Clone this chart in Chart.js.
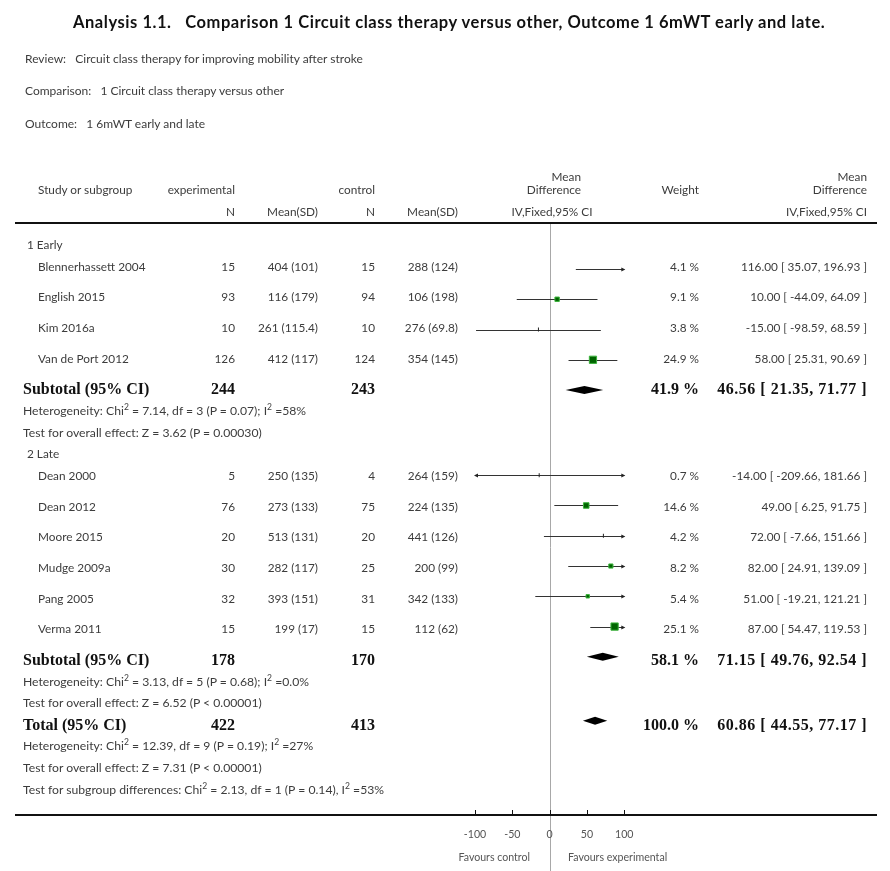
<!DOCTYPE html>
<html>
<head>
<meta charset="utf-8">
<script src="https://cdn.jsdelivr.net/npm/chart.js@4.4.0/dist/chart.umd.min.js"></script>
<style>
html, body { margin: 0; padding: 0; background: #fff; overflow: hidden; }
#wrap { position: relative; width: 890px; height: 871px; }
#grafico { position: absolute; left: 0; top: 0; }
.t { position: absolute; white-space: nowrap; font-family: Lato, "DejaVu Sans", sans-serif; font-size: 11.8px;
     color: #3c3c3c; line-height: 16px; transform: translateY(-50%); }
.c { transform: translate(-50%, -50%); }
.b { font-family: "Liberation Serif", serif; font-weight: bold; font-size: 16px; color: #111; }
.bn { letter-spacing: 0.5px; }
.titulo { font-weight: bold; font-size: 16.5px; letter-spacing: 0.55px; color: #111; }
.cab { font-size: 12px; }
.nota { font-size: 12.2px; }
.eje { font-size: 10.6px; color: #555; }
sup { font-size: 70%; line-height: 0; }
</style>
</head>
<body>
<div id="wrap">
  <canvas id="grafico" width="890" height="871"></canvas>
</div>
<script>
// Datos (Analysis 1.1, 6mWT early and late)
const grupos = ['1 Early', '2 Late'];
const estudios = ['Blennerhassett 2004', 'English 2015', 'Kim 2016a', 'Van de Port 2012',
                  'Dean 2000', 'Dean 2012', 'Moore 2015', 'Mudge 2009a', 'Pang 2005', 'Verma 2011'];
const grupoEstudio = [0, 0, 0, 0, 1, 1, 1, 1, 1, 1];
const expN    = [15, 93, 10, 126, 5, 76, 20, 30, 32, 15];
const expMean = ['404', '116', '261', '412', '250', '273', '513', '282', '393', '199'];
const expSD   = ['101', '179', '115.4', '117', '135', '133', '131', '117', '151', '17'];
const ctlN    = [15, 94, 10, 124, 4, 75, 20, 25, 31, 15];
const ctlMean = ['288', '106', '276', '354', '264', '224', '441', '200', '342', '112'];
const ctlSD   = ['124', '198', '69.8', '145', '159', '135', '126', '99', '133', '62'];
const pesos   = [4.1, 9.1, 3.8, 24.9, 0.7, 14.6, 4.2, 8.2, 5.4, 25.1];
const md      = [116.00, 10.00, -15.00, 58.00, -14.00, 49.00, 72.00, 82.00, 51.00, 87.00];
const icInf   = [35.07, -44.09, -98.59, 25.31, -209.66, 6.25, -7.66, 24.91, -19.21, 54.47];
const icSup   = [196.93, 64.09, 68.59, 90.69, 181.66, 91.75, 151.66, 139.09, 121.21, 119.53];

// Subtotales por grupo
const subExpN  = [244, 178];
const subCtlN  = [243, 170];
const subPeso  = [41.9, 58.1];
const subMD    = [46.56, 71.15];
const subInf   = [21.35, 49.76];
const subSup   = [71.77, 92.54];
const subChi2  = ['7.14', '3.13'];
const subDf    = [3, 5];
const subP     = ['P = 0.07', 'P = 0.68'];
const subI2    = ['58%', '0.0%'];
const subZ     = ['3.62', '6.52'];
const subZP    = ['P = 0.00030', 'P < 0.00001'];

// Total
const totExpN = 422, totCtlN = 413, totPeso = 100.0;
const totMD = 60.86, totInf = 44.55, totSup = 77.17;
const totChi2 = '12.39', totDf = 9, totP = 'P = 0.19', totI2 = '27%';
const totZ = '7.31', totZP = 'P < 0.00001';
const difChi2 = '2.13', difDf = 1, difP = 'P = 0.14', difI2 = '53%';

const ticksX = [-100, -50, 0, 50, 100];

// ---- distribución de filas ----
const FILA = 30.7, LINEA = 21.6;
let yy = 245;
const yGrupo = [], yEstudio = [], ySub = [], yHet = [], yTest = [];
grupos.forEach((g, gi) => {
    yGrupo[gi] = yy; yy += LINEA;
    estudios.forEach((e, i) => {
        if (grupoEstudio[i] === gi) { yEstudio[i] = yy; yy += FILA; }
    });
    ySub[gi] = yy;
    yy += LINEA; yHet[gi] = yy;
    yy += LINEA; yTest[gi] = yy;
    yy += LINEA;
});
const yTotal = yy, yTotHet = yy + LINEA, yTotTest = yy + 2 * LINEA, yDif = yy + 3 * LINEA;
const yEje = 815;

const wrap = document.getElementById('wrap');
function texto(html, x, y, clase, alin) {
    const d = document.createElement('div');
    d.className = 't ' + (clase || '');
    d.innerHTML = html;
    d.style.top = y + 'px';
    if (alin === 'r') d.style.right = (890 - x) + 'px';
    else if (alin === 'c') { d.style.left = x + 'px'; d.classList.add('c'); }
    else d.style.left = x + 'px';
    wrap.appendChild(d);
}
const fmt = v => v.toFixed(2);
const ic = (m, a, b) => fmt(m) + ' [ ' + fmt(a) + ', ' + fmt(b) + ' ]';

// Encabezado
texto('Analysis 1.1.&nbsp;&nbsp; Comparison 1 Circuit class therapy versus other, Outcome 1 6mWT early and late.', 73, 22, 'titulo');
texto('Review:&nbsp;&nbsp; Circuit class therapy for improving mobility after stroke', 25, 59, 'cab');
texto('Comparison:&nbsp;&nbsp; 1 Circuit class therapy versus other', 25, 91, 'cab');
texto('Outcome:&nbsp;&nbsp; 1 6mWT early and late', 25, 124, 'cab');

const colExpN = 235, colExpM = 318, colCtlN = 375, colCtlM = 458, colPeso = 699, colMD = 867;
texto('Study or subgroup', 38, 190);
texto('experimental', colExpN, 190, '', 'r');
texto('control', colCtlN, 190, '', 'r');
texto('N', colExpN, 212, '', 'r');
texto('Mean(SD)', colExpM, 212, '', 'r');
texto('N', colCtlN, 212, '', 'r');
texto('Mean(SD)', colCtlM, 212, '', 'r');
texto('Mean', 581, 177, '', 'r');
texto('Difference', 581, 190, '', 'r');
texto('IV,Fixed,95% CI', 552, 212, '', 'c');
texto('Weight', colPeso, 190, '', 'r');
texto('Mean', colMD, 177, '', 'r');
texto('Difference', colMD, 190, '', 'r');
texto('IV,Fixed,95% CI', colMD, 212, '', 'r');

// Filas de estudios y subtotales
grupos.forEach((g, gi) => {
    texto(g, 27, yGrupo[gi]);
    texto('Subtotal (95% CI)', 23, ySub[gi], 'b');
    texto(subExpN[gi], colExpN, ySub[gi], 'b', 'r');
    texto(subCtlN[gi], colCtlN, ySub[gi], 'b', 'r');
    texto(subPeso[gi].toFixed(1) + ' %', colPeso, ySub[gi], 'b', 'r');
    texto(ic(subMD[gi], subInf[gi], subSup[gi]), colMD, ySub[gi], 'b bn', 'r');
    texto('Heterogeneity: Chi<sup>2</sup> = ' + subChi2[gi] + ', df = ' + subDf[gi] + ' (' + subP[gi] + '); I<sup>2</sup> =' + subI2[gi], 23, yHet[gi], 'nota');
    texto('Test for overall effect: Z = ' + subZ[gi] + ' (' + subZP[gi] + ')', 23, yTest[gi], 'nota');
});
estudios.forEach((e, i) => {
    const y = yEstudio[i];
    texto(e, 38, y);
    texto(expN[i], colExpN, y, '', 'r');
    texto(expMean[i] + ' (' + expSD[i] + ')', colExpM, y, '', 'r');
    texto(ctlN[i], colCtlN, y, '', 'r');
    texto(ctlMean[i] + ' (' + ctlSD[i] + ')', colCtlM, y, '', 'r');
    texto(pesos[i].toFixed(1) + ' %', colPeso, y, '', 'r');
    texto(ic(md[i], icInf[i], icSup[i]), colMD, y, '', 'r');
});
texto('Total (95% CI)', 23, yTotal, 'b');
texto(totExpN, colExpN, yTotal, 'b', 'r');
texto(totCtlN, colCtlN, yTotal, 'b', 'r');
texto(totPeso.toFixed(1) + ' %', colPeso, yTotal, 'b', 'r');
texto(ic(totMD, totInf, totSup), colMD, yTotal, 'b bn', 'r');
texto('Heterogeneity: Chi<sup>2</sup> = ' + totChi2 + ', df = ' + totDf + ' (' + totP + '); I<sup>2</sup> =' + totI2, 23, yTotHet, 'nota');
texto('Test for overall effect: Z = ' + totZ + ' (' + totZP + ')', 23, yTotTest, 'nota');
texto('Test for subgroup differences: Chi<sup>2</sup> = ' + difChi2 + ', df = ' + difDf + ' (' + difP + '), I<sup>2</sup> =' + difI2, 23, yDif, 'nota');

// Tamaño del cuadrado según el peso
const lado = w => 1.45 * Math.sqrt(w);
const esTick = i => lado(pesos[i]) < 3.2;

// Plugin para líneas de IC, diamantes, reglas y eje
const forestPlugin = {
    id: 'forest',
    beforeDatasetsDraw(chart) {
        const ctx = chart.ctx, xs = chart.scales.x, ys = chart.scales.y;
        const x0 = xs.getPixelForValue(0);
        ctx.save();
        // línea de no efecto
        ctx.strokeStyle = '#a8a8a8'; ctx.lineWidth = 1;
        ctx.beginPath(); ctx.moveTo(Math.round(x0) + 0.5, 224); ctx.lineTo(Math.round(x0) + 0.5, 871); ctx.stroke();
        // reglas de la tabla
        ctx.strokeStyle = '#111'; ctx.lineWidth = 2;
        ctx.beginPath(); ctx.moveTo(15, 223); ctx.lineTo(877, 223); ctx.stroke();
        ctx.beginPath(); ctx.moveTo(15, yEje); ctx.lineTo(877, yEje); ctx.stroke();
        // marcas del eje
        ctx.lineWidth = 1;
        ticksX.forEach(v => {
            const px = Math.round(xs.getPixelForValue(v)) + 0.5;
            ctx.beginPath(); ctx.moveTo(px, yEje); ctx.lineTo(px, yEje - 5); ctx.stroke();
        });
        // intervalos de confianza
        const mn = xs.min, mx = xs.max;
        estudios.forEach((e, i) => {
            const py = Math.round(ys.getPixelForValue(yEstudio[i])) + 0.5;
            const a = Math.max(icInf[i], mn), b = Math.min(icSup[i], mx);
            const pa = xs.getPixelForValue(a), pb = xs.getPixelForValue(b);
            ctx.strokeStyle = '#333'; ctx.fillStyle = '#222'; ctx.lineWidth = 1;
            ctx.beginPath(); ctx.moveTo(pa, py); ctx.lineTo(pb, py); ctx.stroke();
            if (icSup[i] > mx) {
                ctx.beginPath(); ctx.moveTo(pb + 1, py); ctx.lineTo(pb - 3, py - 2); ctx.lineTo(pb - 3, py + 2); ctx.closePath(); ctx.fill();
            }
            if (icInf[i] < mn) {
                ctx.beginPath(); ctx.moveTo(pa - 1, py); ctx.lineTo(pa + 3, py - 2); ctx.lineTo(pa + 3, py + 2); ctx.closePath(); ctx.fill();
            }
        });
        ctx.restore();
    },
    afterDatasetsDraw(chart) {
        const ctx = chart.ctx, xs = chart.scales.x, ys = chart.scales.y;
        const diamante = (m, a, b, y) => {
            const py = ys.getPixelForValue(y);
            ctx.beginPath();
            ctx.moveTo(xs.getPixelForValue(a), py);
            ctx.lineTo(xs.getPixelForValue(m), py - 4);
            ctx.lineTo(xs.getPixelForValue(b), py);
            ctx.lineTo(xs.getPixelForValue(m), py + 4);
            ctx.closePath();
            ctx.fill();
        };
        ctx.save();
        ctx.fillStyle = '#000';
        grupos.forEach((g, gi) => diamante(subMD[gi], subInf[gi], subSup[gi], ySub[gi]));
        diamante(totMD, totInf, totSup, yTotal);
        ctx.restore();
    }
};

const ctx = document.getElementById('grafico').getContext('2d');
const chart = new Chart(ctx, {
    type: 'scatter',
    data: {
        datasets: [{
            data: estudios.map((e, i) => ({ x: md[i], y: yEstudio[i] })),
            pointStyle: c => esTick(c.dataIndex) ? 'line' : 'rect',
            rotation: c => esTick(c.dataIndex) ? 90 : 0,
            pointRadius: c => esTick(c.dataIndex) ? 2 : lado(pesos[c.dataIndex]) / Math.SQRT2,
            backgroundColor: '#006400',
            borderColor: c => esTick(c.dataIndex) ? '#222' : '#3cb43c',
            borderWidth: 1
        }]
    },
    options: {
        responsive: false,
        animation: false,
        layout: { padding: { left: 475, right: 890 - 624.3, top: 0, bottom: 0 } },
        plugins: { legend: { display: false }, tooltip: { enabled: false } },
        scales: {
            x: { type: 'linear', min: -100, max: 100, display: false },
            y: { type: 'linear', min: 0, max: 871, reverse: true, display: false }
        }
    },
    plugins: [forestPlugin]
});

// Etiquetas del eje
ticksX.forEach(v => texto(String(v), chart.scales.x.getPixelForValue(v), 834, 'eje', 'c'));
texto('Favours control', 530, 857, 'eje', 'r');
texto('Favours experimental', 568, 857, 'eje');
</script>
</body>
</html>
